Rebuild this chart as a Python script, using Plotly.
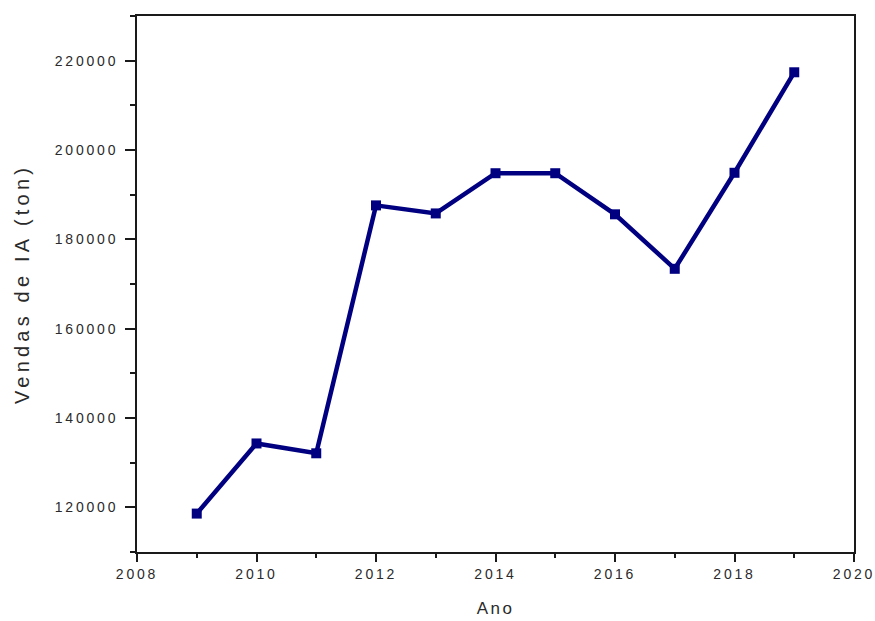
import plotly.graph_objects as go

# Annual sales of IA (tonnes)
anos = [2009, 2010, 2011, 2012, 2013, 2014, 2015, 2016, 2017, 2018, 2019]
vendas = [118600, 134300, 132100, 187600, 185800, 194800, 194800, 185600, 173400, 194900, 217400]

x_ticks = [2008, 2010, 2012, 2014, 2016, 2018, 2020]
y_ticks = [120000, 140000, 160000, 180000, 200000, 220000]

navy = "#000080"
font_family = "Liberation Sans, Arial, sans-serif"
text_color = "#2a2a2a"


def spaced(text, px):
    """Wrap text in a span with extra letter spacing."""
    return f'<span style="letter-spacing:{px}px">{text}</span>'


fig = go.Figure(
    go.Scatter(
        x=anos,
        y=vendas,
        mode="lines+markers",
        line=dict(color=navy, width=4.5),
        marker=dict(symbol="square", size=10, color=navy),
    )
)

axis_common = dict(
    showline=True,
    linecolor="#1a1a1a",
    linewidth=1.8,
    mirror=True,
    showgrid=False,
    zeroline=False,
    automargin=False,
    ticks="outside",
    tickcolor="#1a1a1a",
    tickwidth=1.8,
    ticklabeloverflow="allow",
    tickfont=dict(family=font_family, size=14, color=text_color),
)

fig.update_xaxes(
    **axis_common,
    range=[2008, 2020],
    tickvals=x_ticks,
    ticktext=[spaced(str(t), 2.8) for t in x_ticks],
    ticklen=8,
    minor=dict(ticks="outside", ticklen=4, dtick=1, tick0=2008, tickcolor="#1a1a1a", tickwidth=1.5),
    title=dict(text=spaced("Ano", 2.5), font=dict(family=font_family, size=17, color=text_color), standoff=21),
)
fig.update_yaxes(
    **axis_common,
    range=[110000, 230000],
    tickvals=y_ticks,
    ticktext=[spaced(str(t), 2.8) for t in y_ticks],
    ticklen=10,
    ticklabelstandoff=4,
    minor=dict(ticks="outside", ticklen=5, dtick=10000, tick0=110000, tickcolor="#1a1a1a", tickwidth=1.5),
    title=dict(text=spaced("Vendas de IA (ton)", 4.2), font=dict(family=font_family, size=20, color=text_color), standoff=20),
)

fig.update_layout(
    width=875,
    height=621,
    margin=dict(l=137, r=21, t=16, b=69),
    plot_bgcolor="white",
    paper_bgcolor="white",
    showlegend=False,
)

fig.write_html("out.html")
